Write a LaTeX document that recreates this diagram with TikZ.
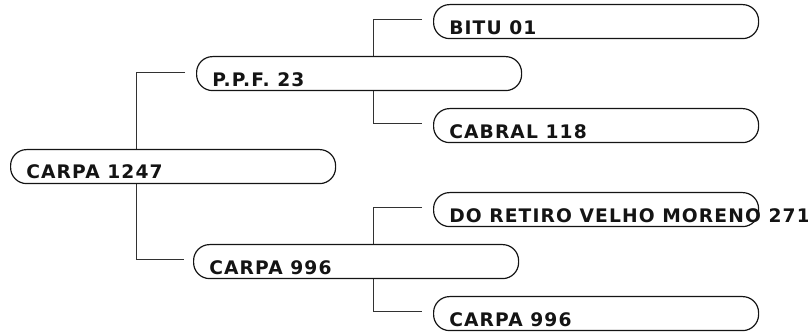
\documentclass[tikz,border=0pt]{standalone}
\usepackage{fontspec}
\usepackage{tikz}
\usetikzlibrary{positioning, backgrounds, calc}
\newfontfamily\boxfont[LetterSpace=6.0]{DejaVu Sans}
\definecolor{ink}{RGB}{20,20,20}
\definecolor{linkLine}{RGB}{50,50,50}
\tikzset{
  herdBox/.style={
    draw=ink,
    line width=0.9pt,
    rounded corners=12pt,
    fill=white,
    anchor=north west,
    minimum width=243.75pt,
    minimum height=25.5pt,
    inner sep=0pt
  },
  herdName/.style={
    anchor=base west,
    inner sep=0pt,
    text=ink,
    font={\boxfont\bfseries\fontsize{14}{16}\selectfont}
  },
  link/.style={draw=linkLine, line width=0.75pt}
}
\begin{document}
\begin{tikzpicture}[x=0.75pt, y=-0.75pt]
  \useasboundingbox (0,0) rectangle (808,334);

  % boxes
  \node[herdBox] (root) at (10,149) {};
  \node[herdBox] (ppf) at (196,56) {};
  \node[herdBox] (carpaMid) at (193,244) {};
  \node[herdBox] (bitu) at (433,4) {};
  \node[herdBox] (cabral) at (433,108) {};
  \node[herdBox] (retiro) at (433,192) {};
  \node[herdBox] (carpaLow) at (433,296) {};

  % names
  \node[herdName] (rootText) at ($(root.south west)+(16,-6)$) {CARPA 1247};
  \node[herdName] (ppfText) at ($(ppf.south west)+(16,-5)$) {P.P.F. 23};
  \node[herdName] (carpaMidText) at ($(carpaMid.south west)+(16,-5)$) {CARPA 996};
  \node[herdName] (bituText) at ($(bitu.south west)+(16,-5)$) {BITU 01};
  \node[herdName] (cabralText) at ($(cabral.south west)+(16,-5)$) {CABRAL 118};
  \node[herdName] (retiroText) at ($(retiro.south west)+(16,-5)$) {DO RETIRO VELHO MORENO 271};
  \node[herdName] (carpaLowText) at ($(carpaLow.south west)+(16,-5)$) {CARPA 996};

  % connectors
  \begin{scope}[on background layer]
    \draw[link] ($(ppf.west)+(-11,-1)$) -- ++(-49,0) |- ($(carpaMid.west)+(-9,-2)$);
    \draw[link] ($(bitu.west)+(-11,-2)$) -- ++(-49,0) |- ($(cabral.west)+(-11,-2)$);
    \draw[link] ($(retiro.west)+(-11,-2)$) -- ++(-49,0) |- ($(carpaLow.west)+(-11,-2)$);
  \end{scope}
\end{tikzpicture}
\end{document}
